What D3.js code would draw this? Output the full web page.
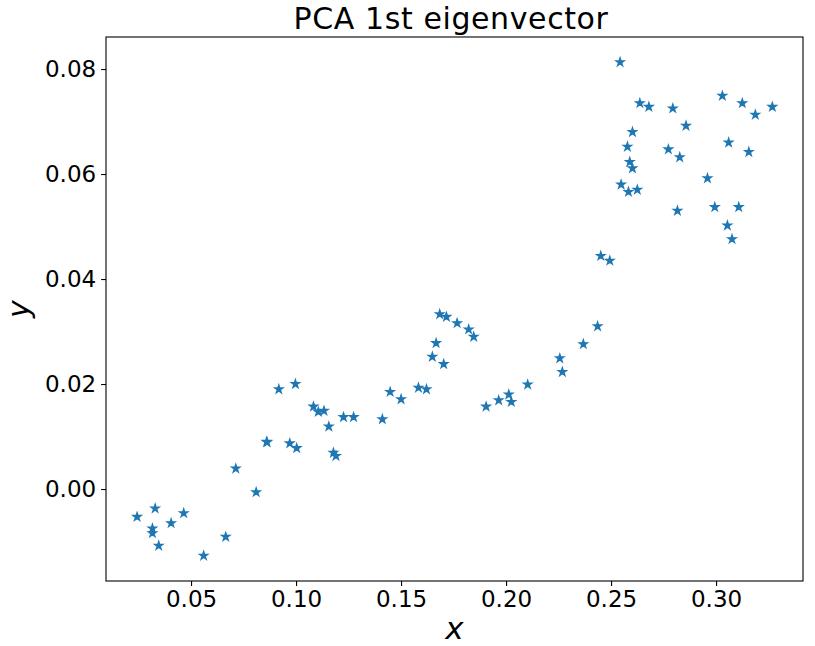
<!DOCTYPE html>
<html><head><meta charset="utf-8">
<script src="https://cdn.jsdelivr.net/npm/d3@7"></script>
<style>body{margin:0;background:#fff;} text{font-family:"DejaVu Sans",sans-serif;}</style>
</head><body>
<script>
const title = "PCA 1st eigenvector";
const xTicks = [0.05, 0.10, 0.15, 0.20, 0.25, 0.30];
const yTicks = [0.00, 0.02, 0.04, 0.06, 0.08];
const xs = [0.0243,0.0329,0.0316,0.0316,0.0346,0.0405,0.0465,0.0560,0.0665,0.0713,0.0810,0.0860,0.0862,
  0.0918,0.0997,0.0970,0.1003,0.1083,0.1106,0.1133,0.1156,0.1178,0.1190,0.1226,0.1274,
  0.1411,0.1448,0.1500,0.1583,0.1621,0.1649,0.1667,0.1703,0.1684,0.1716,0.1767,0.1822,0.1846,
  0.1905,0.1965,0.2013,0.2025,0.2103,0.2256,0.2268,0.2368,0.2436,0.2451,0.2494,
  0.2543,0.2637,0.2680,0.2794,0.3030,0.3125,0.3268,0.3187,0.2857,0.2602,0.2578,0.2773,0.3060,0.3156,
  0.2827,0.2589,0.2602,0.2959,0.2548,0.2625,0.2583,0.2816,0.2994,0.3108,0.3054,0.3076];
const ys = [-0.0053,-0.0037,-0.0075,-0.0084,-0.0108,-0.0065,-0.0046,-0.0127,-0.0091,0.0039,-0.0006,0.0090,0.0089,
  0.0190,0.0200,0.0087,0.0078,0.0157,0.0147,0.0149,0.0119,0.0069,0.0063,0.0137,0.0137,
  0.0133,0.0185,0.0171,0.0193,0.0190,0.0252,0.0278,0.0238,0.0333,0.0328,0.0316,0.0304,0.0290,
  0.0157,0.0169,0.0180,0.0166,0.0199,0.0249,0.0223,0.0276,0.0310,0.0444,0.0435,
  0.0813,0.0735,0.0728,0.0725,0.0749,0.0735,0.0728,0.0713,0.0692,0.0680,0.0652,0.0647,0.0660,0.0642,
  0.0632,0.0623,0.0611,0.0592,0.0580,0.0570,0.0566,0.0530,0.0537,0.0537,0.0502,0.0476];

const W = 815, H = 646;
const m = {left:106, top:37, right:12, bottom:65};
const svg = d3.select("body").append("svg").attr("width", W).attr("height", H);
const x = d3.scaleLinear().domain([0.0095, 0.3414]).range([m.left, W - m.right]);
const y = d3.scaleLinear().domain([-0.01752, 0.0861]).range([H - m.bottom, m.top]);

const xAxis = svg.append("g").attr("transform", `translate(0,${H - m.bottom})`)
  .call(d3.axisBottom(x).tickValues(xTicks).tickFormat(d3.format(".2f")).tickSize(4.9).tickPadding(4.9));
const yAxis = svg.append("g").attr("transform", `translate(${m.left},0)`)
  .call(d3.axisLeft(y).tickValues(yTicks).tickFormat(d3.format(".2f")).tickSize(4.9).tickPadding(4.9));
[xAxis, yAxis].forEach(g => {
  g.select(".domain").remove();
  g.selectAll("line").attr("stroke", "#000").attr("stroke-width", 1.1);
  g.selectAll("text").attr("font-size", "23px").attr("fill", "#000").attr("font-family", "DejaVu Sans");
});

svg.append("rect").attr("x", m.left).attr("y", m.top)
  .attr("width", W - m.left - m.right).attr("height", H - m.top - m.bottom)
  .attr("fill", "none").attr("stroke", "#000").attr("stroke-width", 1.1);

const star = d3.symbol().type(d3.symbolStar).size(19.5);
svg.append("g").selectAll("path").data(xs.map((v, i) => [v, ys[i]])).join("path")
  .attr("d", star)
  .attr("transform", d => `translate(${x(d[0])},${y(d[1])})`)
  .attr("fill", "#1f77b4").attr("stroke", "#1f77b4").attr("stroke-width", 1.39).attr("stroke-linejoin", "miter");

svg.append("text").attr("x", 451).attr("y", 29)
  .attr("text-anchor", "middle").attr("font-size", "30px").attr("letter-spacing", "0.6px").text(title);
svg.append("text").attr("x", (m.left + W - m.right) / 2).attr("y", 639)
  .attr("text-anchor", "middle").attr("font-size", "31px").attr("font-style", "italic").text("x");
svg.append("text").attr("transform", `translate(29,${(m.top + H - m.bottom) / 2}) rotate(-90)`)
  .attr("text-anchor", "middle").attr("font-size", "30px").attr("font-style", "italic").text("y");
</script>
</body></html>
